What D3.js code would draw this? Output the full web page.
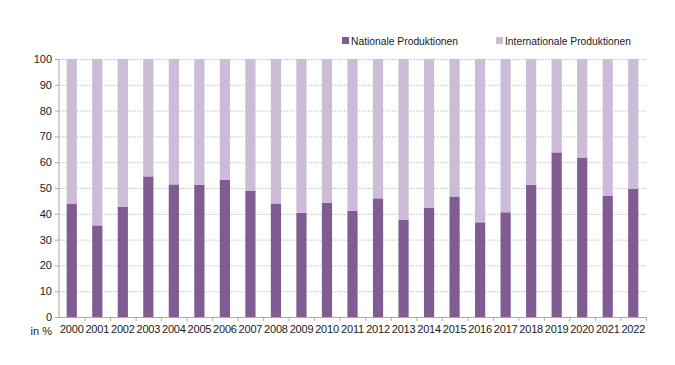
<!DOCTYPE html>
<html>
<head>
<meta charset="utf-8">
<script src="https://cdn.jsdelivr.net/npm/d3@7"></script>
<style>
  body { margin: 0; background: #fff; }
  svg { display: block; font-family: "Liberation Sans", Arial, sans-serif; }
  .grid line { stroke: #bdbdbd; stroke-dasharray: 1.5 1.5; }
  .grid .domain { display: none; }
  .axis text { fill: #1a1a1a; font-size: 11px; }
</style>
</head>
<body>
<div id="chart"></div>
<script>
// Anteil nationaler / internationaler Produktionen (in %)
const years = ["2000","2001","2002","2003","2004","2005","2006","2007","2008","2009","2010","2011",
    "2012","2013","2014","2015","2016","2017","2018","2019","2020","2021","2022"];
const national = [44, 35.5, 42.7, 54.5, 51.4, 51.3, 53.2, 49, 44, 40.4, 44.3, 41.2,
    46, 37.7, 42.3, 46.7, 36.7, 40.6, 51.3, 63.8, 61.8, 47, 49.7];
const yTicks = [0, 10, 20, 30, 40, 50, 60, 70, 80, 90, 100];
const seriesNames = ["Nationale Produktionen", "Internationale Produktionen"];
const colors = ["#815c92", "#ccbcd8"];

const data = years.map((y, i) => ({ year: y, nat: national[i], intl: 100 - national[i] }));

const W = 675, H = 365;
const margin = { top: 59, right: 29, bottom: 48, left: 59 };
const width = W - margin.left - margin.right,
    height = H - margin.top - margin.bottom;

const svg = d3.select("#chart").append("svg")
    .attr("width", W)
    .attr("height", H);

const g = svg.append("g")
    .attr("transform", `translate(${margin.left},${margin.top})`);

const x = d3.scaleBand().domain(years).range([0, width]).paddingInner(0.6).paddingOuter(0.3);
const y = d3.scaleLinear().domain([0, 100]).range([height, 0]);

// dotted grid
g.append("g")
    .attr("class", "grid")
    .call(d3.axisLeft(y).tickValues(yTicks.slice(1)).tickSize(-width).tickFormat(""));

// stacked bars
const stack = d3.stack().keys(["nat", "intl"])(data);
g.selectAll(".layer")
    .data(stack)
    .enter().append("g")
    .attr("fill", (d, i) => colors[i])
    .selectAll("rect")
    .data(d => d)
    .enter().append("rect")
    .attr("x", d => x(d.data.year))
    .attr("width", x.bandwidth())
    .attr("y", d => y(d[1]))
    .attr("height", d => y(d[0]) - y(d[1]));

// y axis
const yAxis = g.append("g")
    .attr("class", "axis")
    .call(d3.axisLeft(y).tickValues(yTicks).tickSize(4).tickPadding(3));
yAxis.select(".domain").attr("stroke", "#aaa").attr("d", `M0,${height + 0.5}V0`);
yAxis.selectAll(".tick line").attr("stroke", "#aaa").attr("x1", 0).attr("x2", -4);
yAxis.selectAll(".tick text").attr("x", -7);

// x axis with ticks between categories
const step = x.step();
const xAxis = g.append("g")
    .attr("class", "axis")
    .attr("transform", `translate(0,${height})`)
    .call(d3.axisBottom(x).tickSize(0).tickPadding(8));
xAxis.select(".domain").attr("stroke", "#aaa").attr("d", `M0,0.5H${width}`);
xAxis.selectAll(".tick text").attr("dy", "0.71em").style("letter-spacing", "-0.2px");
xAxis.selectAll(".sep")
    .data(d3.range(1, years.length + 1))
    .enter().append("line")
    .attr("x1", i => i * step + 0.5)
    .attr("x2", i => i * step + 0.5)
    .attr("y1", 0)
    .attr("y2", 4)
    .attr("stroke", "#aaa");

svg.append("text")
    .attr("x", margin.left - 7)
    .attr("y", margin.top + height + 18)
    .attr("text-anchor", "end")
    .attr("font-size", 11)
    .attr("fill", "#1a1a1a")
    .text("in %");

// legend
const legendX = [342, 496];
const legend = svg.append("g").selectAll("g")
    .data(seriesNames)
    .enter().append("g")
    .attr("transform", (d, i) => `translate(${legendX[i]},37)`);
legend.append("rect")
    .attr("width", 7).attr("height", 7)
    .attr("fill", (d, i) => colors[i]);
legend.append("text")
    .attr("x", 9).attr("y", 7.5)
    .attr("font-size", 10.3)
    .attr("fill", "#1a1a1a")
    .text(d => d);
</script>
</body>
</html>
